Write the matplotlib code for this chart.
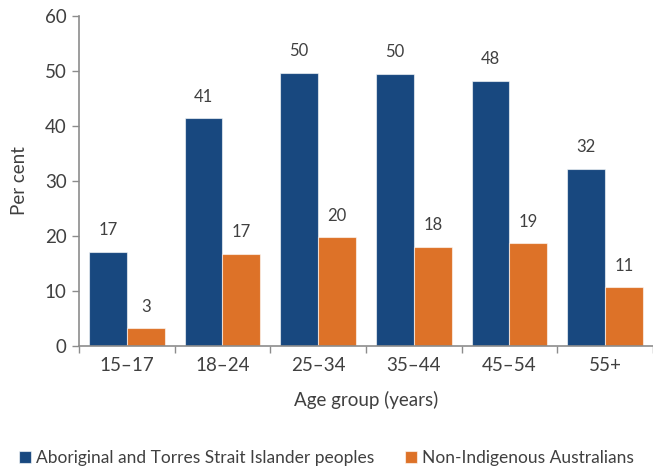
import matplotlib
matplotlib.use("Agg")
import matplotlib.pyplot as plt
import numpy as np

categories = ["15–17", "18–24", "25–34", "35–44", "45–54", "55+"]
indigenous = [17.1, 41.4, 49.7, 49.5, 48.2, 32.2]
non_indigenous = [3.2, 16.8, 19.8, 18.0, 18.7, 10.7]
indigenous_labels = ["17", "41", "50", "50", "48", "32"]
non_indigenous_labels = ["3", "17", "20", "18", "19", "11"]
series_names = ["Aboriginal and Torres Strait Islander peoples", "Non-Indigenous Australians"]
y_ticks = [0, 10, 20, 30, 40, 50, 60]

BLUE = "#18487F"
ORANGE = "#DD7228"
TEXT = "#404040"
SPINE = "#8C8C8C"

plt.rcParams["font.family"] = ["Lato", "DejaVu Sans"]

fig = plt.figure(figsize=(6.53, 4.67), dpi=100)
ax = fig.add_axes([79/653, 1-346/467, 1-79/653, 330/467])

x = np.arange(len(categories))
w = 0.396
b1 = ax.bar(x - w/2, indigenous, w, color=BLUE, edgecolor=(1, 1, 1, 0.6), linewidth=0.8,
            label=series_names[0])
b2 = ax.bar(x + w/2, non_indigenous, w, color=ORANGE, edgecolor=(1, 1, 1, 0.6), linewidth=0.8,
            label=series_names[1])

for xi, v, lab in zip(x - w/2, indigenous, indigenous_labels):
    ax.annotate(lab, (xi, v), xytext=(0, 15.5), textcoords="offset points",
                ha="center", va="center", fontsize=12, color=TEXT)
for xi, v, lab in zip(x + w/2, non_indigenous, non_indigenous_labels):
    ax.annotate(lab, (xi, v), xytext=(0, 15.5), textcoords="offset points",
                ha="center", va="center", fontsize=12, color=TEXT)

ax.set_xlim(-0.5, len(categories) - 0.5)
ax.set_ylim(0, 60)
ax.set_yticks(y_ticks)
ax.set_yticklabels([str(t) for t in y_ticks], fontsize=13.5, color=TEXT)
ax.set_xticks(x)
ax.set_xticklabels(categories, fontsize=13.5, color=TEXT)
ax.tick_params(axis="x", length=0, pad=8)
ax.set_xticks(np.arange(-0.5, len(categories)), minor=True)
ax.tick_params(axis="x", which="minor", length=5, color=SPINE, width=1)
ax.tick_params(axis="y", length=5, color=SPINE, width=1, pad=4)

for s in ["top", "right"]:
    ax.spines[s].set_visible(False)
for s in ["left", "bottom"]:
    ax.spines[s].set_color(SPINE)
    ax.spines[s].set_linewidth(1.2)

ax.set_ylabel("Per cent", fontsize=13.5, color=TEXT, labelpad=12)
ax.set_xlabel("Age group (years)", fontsize=13.5, color=TEXT, labelpad=12)

fig.legend(handles=[b1, b2], labels=series_names, loc="center",
           bbox_to_anchor=(0.5, 1-458/467), ncol=2, frameon=False,
           fontsize=12.5, handlelength=0.7, handleheight=0.7, handletextpad=0.25,
           columnspacing=1.8, labelcolor=TEXT)

fig.savefig("out.png", dpi=100)
